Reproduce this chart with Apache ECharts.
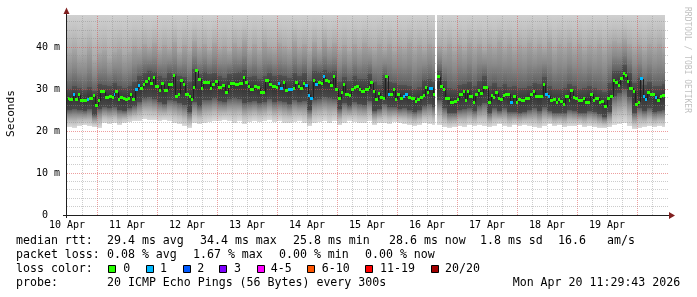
<!DOCTYPE html>
<html><head><meta charset="utf-8">
<script src="https://cdn.jsdelivr.net/npm/echarts@6/dist/echarts.min.js"></script>
<style>html,body{margin:0;padding:0;background:#fff}#c{width:697px;height:297px}</style>
</head><body><div id="c"></div>
<script>
// ---- data (time axis: hours since 10 Apr 12:00) ----
const dayLabels = ['10 Apr','11 Apr','12 Apr','13 Apr','14 Apr','15 Apr','16 Apr','17 Apr','18 Apr','19 Apr'];
const yMaxMs = 47.62;
const dataEndT = 239.2;
const missingT = [[147.1, 148.1]];

const medianT = [
0.4,0.9,2.5,3.3,4.4,5.3,6.7,8.0,8.9,10.4,
11.1,12.4,13.1,15.3,16.7,18.0,18.7,19.3,20.4,21.3,
22.4,23.3,24.4,25.3,26.0,27.1,28.4,29.3,30.5,31.3,
32.4,33.3,34.4,35.1,36.7,37.5,38.7,40.4,42.5,43.3,
44.4,45.3,46.3,47.3,48.7,49.5,50.4,51.3,52.4,53.5,
54.3,57.2,58.0,59.1,60.4,62.0,63.1,64.4,65.3,67.3,
68.9,70.3,71.1,72.4,73.3,74.7,76.0,77.3,79.3,80.9,
82.0,83.6,84.4,85.2,86.5,87.3,88.4,89.5,90.3,91.1,
92.4,93.2,94.3,95.3,96.4,97.2,98.3,99.3,100.4,101.5,
102.5,103.1,104.4,105.2,106.3,107.3,108.4,109.5,110.5,111.3,
112.7,113.5,114.8,115.6,116.7,117.5,119.3,120.7,121.2,122.5,
123.3,124.4,125.3,126.3,127.3,128.4,129.2,130.5,131.3,132.1,
133.2,134.3,135.3,136.4,137.5,139.1,140.1,141.2,142.3,143.1,
144.1,144.9,146.5,147.1,148.1,149.2,150.5,151.3,153.2,154.8,
156.1,156.9,158.3,159.3,160.1,160.9,162.5,163.3,164.4,165.2,
166.5,168.4,169.5,170.3,171.3,172.4,173.2,174.5,175.3,177.2,
178.4,179.6,180.4,181.5,183.3,185.2,186.3,187.3,188.7,190.5,
191.3,192.4,193.3,194.5,195.6,196.4,197.2,198.3,199.3,200.7,
201.2,202.5,203.3,204.4,206.3,207.1,209.2,210.3,211.3,212.7,
213.5,214.8,216.1,217.2,218.3,219.3,220.4,221.2,222.3,223.1,
224.1,224.9,226.3,227.3,228.4,229.2,230.3,231.1,232.1,233.2,
235.1,236.1,237.2,238.0];

const medianMs = [
27.8,27.5,28.6,27.5,28.6,27.2,27.3,27.5,27.8,28.4,
26.0,27.2,29.3,27.9,28.3,28.0,28.6,29.3,27.5,28.0,
27.7,27.5,27.8,28.6,27.5,29.8,30.8,30.2,31.0,31.9,
32.5,31.2,32.8,30.5,29.7,31.3,29.7,31.1,33.1,28.3,
28.7,32.0,31.0,28.6,28.1,27.6,30.3,34.4,32.3,30.2,
31.6,30.2,31.0,31.8,30.4,30.9,29.1,30.6,31.3,31.0,
31.2,32.8,31.5,30.6,29.8,30.6,30.3,29.2,32.0,31.0,
30.6,30.4,31.2,30.2,31.5,29.7,29.9,29.8,30.1,31.5,
30.7,30.2,31.3,30.9,28.5,27.8,32.0,31.0,31.6,31.2,
32.9,32.0,31.7,30.9,32.9,29.9,27.7,29.2,31.0,28.7,
28.4,29.9,30.3,30.6,29.9,29.4,29.8,30.4,31.5,29.5,
27.5,29.0,27.9,27.7,33.0,28.8,28.8,29.8,27.6,28.8,
27.8,28.2,28.6,28.0,27.7,27.1,27.5,28.0,28.4,30.4,
29.2,30.2,28.8,null,32.9,30.7,29.8,27.7,26.9,27.1,
27.5,28.6,29.5,27.3,29.4,28.3,26.9,28.8,29.6,29.0,
30.3,26.9,28.4,28.0,29.1,27.7,27.5,28.4,28.8,26.8,
28.3,26.8,27.5,27.3,27.8,28.6,29.4,28.2,28.3,31.0,
28.8,28.3,27.3,27.5,26.8,27.5,27.1,26.4,28.3,27.3,
29.6,27.9,27.7,27.3,27.8,26.9,28.7,27.3,27.8,26.9,
27.0,25.8,27.7,28.2,32.1,31.6,30.9,32.5,33.6,33.2,
31.8,30.2,29.5,26.2,26.9,32.4,28.2,27.5,29.1,28.6,
28.0,27.3,28.3,28.4];

const medianLoss = [
0,0,1,0,0,0,0,1,0,0, 0,0,0,0,0,0,1,0,0,0, 0,0,0,0,0,1,1,0,0,0, 0,0,0,0,0,0,0,0,0,0,
0,0,0,0,0,0,0,0,0,0, 0,0,0,0,0,0,0,0,0,0, 0,0,0,0,0,0,0,0,0,0, 0,0,1,1,0,0,1,1,0,0,
0,0,0,1,1,1,0,1,0,0, 1,0,0,0,0,0,0,0,0,0, 0,0,0,0,0,0,0,0,0,0, 0,0,0,0,0,1,0,0,0,0,
0,1,1,0,0,0,0,0,0,0, 0,1,0,0,0,0,0,0,0,0, 0,0,0,0,0,0,0,0,0,0, 0,0,0,0,0,0,0,0,0,1,
0,0,0,0,0,0,0,0,0,0, 1,1,0,0,0,0,0,0,0,0, 0,0,0,0,0,0,0,0,0,0, 0,0,0,0,0,0,0,0,0,0,
0,0,0,0,0,1,1,1,0,0, 1,0,0,0];

// smoke: 2-hour columns starting at t = 0
const smokeMin = [
21.0,20.8,21.2,21.5,21.3,21.0,20.6,21.8,21.6,21.9, 21.4,22.0,22.2,22.4,22.5,22.8,22.6,22.7,22.4,22.6,
22.3,22.0,21.6,21.2,20.8,21.8,21.6,21.9,22.1,22.3, 22.4,22.6,22.3,22.0,22.4,21.6,22.2,22.5,22.1,22.3,
22.6,22.2,22.4,22.0,21.8,22.2,22.5,21.9,21.2,21.8, 22.2,22.4,22.0,22.3,21.5,22.0,22.3,22.1,21.8,22.0,
22.4,21.4,21.8,22.0,21.6,22.1,21.9,21.6,21.4,21.2, 21.5,21.8,21.6,21.5,21.4,21.0,20.8,20.9,21.2,21.0,
21.4,21.1,21.5,21.3,20.9,21.2,21.6,21.3,21.0,21.4, 21.1,21.5,21.2,21.0,20.7,21.3,21.6,21.2,21.4,21.0,
21.3,21.1,21.4,20.9,21.2,21.0,20.8,20.6,20.9,21.4, 21.6,21.8,21.2,20.4,20.8,21.0,21.2,20.9,21.1,21.0];
const smokeLow = [
25.0,25.2,25.0,24.8,25.2,23.8,25.3,25.6,25.5,25.8, 25.0,24.8,25.4,25.9,27.0,27.8,28.2,27.6,26.8,26.5,
27.4,27.2,26.6,26.2,24.6,27.0,26.0,27.5,27.4,27.8, 27.2,26.8,27.6,27.8,27.6,26.6,26.8,27.2,26.6,27.0,
27.6,27.0,27.2,27.0,26.4,27.4,27.0,27.2,25.0,27.4, 27.6,28.0,27.8,27.6,25.2,26.6,26.0,27.0,26.4,26.2,
27.2,24.8,25.2,26.4,25.6,25.6,25.2,25.4,25.0,24.6, 25.0,26.0,26.4,25.8,27.4,25.4,24.4,24.2,25.0,25.2,
25.4,24.8,26.0,26.6,24.4,25.4,24.8,25.4,24.6,24.6, 24.4,24.6,25.0,25.4,24.8,25.8,24.8,24.4,24.2,24.4,
25.0,24.8,24.4,24.2,24.8,24.6,24.0,23.4,24.6,28.4, 29.0,30.0,28.2,24.2,25.4,24.8,25.4,24.6,24.8,25.0];
const smokeHigh = [
30.0,30.6,30.2,29.8,30.4,29.6,31.2,31.0,30.8,31.4, 30.6,30.2,30.8,31.6,33.0,33.8,34.2,34.0,33.2,32.6,
33.8,33.6,33.2,32.8,31.6,34.8,33.6,34.0,33.6,33.8, 33.2,32.6,33.6,33.8,34.0,34.6,32.8,33.0,32.4,33.2,
33.8,33.2,33.4,33.2,32.6,33.8,33.2,33.8,32.0,34.2, 34.0,34.6,34.0,34.2,31.6,32.8,32.0,33.0,32.4,32.4,
33.6,31.6,31.0,33.4,31.6,31.4,31.0,31.0,30.6,30.0, 30.4,32.2,32.4,31.6,34.4,31.8,30.2,30.0,31.0,31.2,
31.6,30.8,32.0,33.0,30.8,31.4,30.4,31.2,30.4,30.6, 30.2,30.2,30.8,31.4,31.2,32.8,30.6,30.0,30.0,30.2,
31.2,30.6,30.0,30.2,30.6,30.2,29.8,29.4,31.4,34.2, 34.4,35.6,33.8,31.4,32.6,31.0,31.6,30.6,30.8,31.2];
const smokeMid = [
38.5,39.5,37.8,38.2,39.8,37.0,38.6,39.2,37.5,38.8, 39.6,38.0,38.9,40.2,39.5,40.6,39.8,41.0,39.2,40.5,
39.6,41.2,38.8,40.4,39.0,41.5,39.8,40.8,39.4,40.9, 39.6,40.2,39.0,41.0,40.0,41.6,39.4,40.6,39.2,41.2,
40.0,39.5,41.0,40.2,39.6,41.4,39.8,40.6,39.0,41.2, 39.6,41.6,40.0,41.0,39.2,40.4,39.0,40.8,39.6,41.0,
40.0,39.2,40.6,39.4,40.8,39.0,40.2,39.6,41.0,39.2, 40.4,39.4,40.6,40.0,40.2,39.4,40.8,39.0,40.4,39.2,
41.0,39.6,40.6,39.4,40.8,39.8,41.2,39.6,40.6,39.2, 40.4,39.8,41.0,39.6,40.6,39.6,41.2,39.4,40.6,39.8,
41.0,39.6,40.8,39.2,40.4,39.6,40.8,39.4,40.6,41.4, 41.0,42.0,40.8,39.6,40.4,39.2,40.6,39.8,40.6,39.6];
const smokeStep = 2;

const lossLegend = [['0','#26ff00'],['1','#00b8ff'],['2','#0059ff'],['3','#7e00ff'],['4-5','#ff00ff'],['6-10','#ff5500'],['11-19','#ff0000'],['20/20','#a00000']];
const lossColor = ['#26ff00','#00b8ff'];

// ---- rendering ----
const mono = '"DejaVu Sans Mono", monospace';
const G = echarts.graphic;
function grad(stops){ return new G.LinearGradient(0,0,0,1, stops.map(s=>({offset:s[0], color:s[1]}))); }
function subtract(a, b){
  let parts = [[a, b]];
  missingT.forEach(m => {
    const next = [];
    parts.forEach(p => {
      if (m[1] <= p[0] || m[0] >= p[1]) { next.push(p); return; }
      if (m[0] > p[0]) next.push([p[0], m[0]]);
      if (m[1] < p[1]) next.push([m[1], p[1]]);
    });
    parts = next;
  });
  return parts;
}

const smokeData = smokeMin.map((v, i) => [i*smokeStep, Math.min((i+1)*smokeStep, dataEndT), v, smokeLow[i], smokeHigh[i], smokeMid[i]]);

const medianData = [];
for (let i = 0; i < medianT.length; i++) {
  if (medianMs[i] === null) continue;
  const end = i + 1 < medianT.length ? medianT[i+1] : dataEndT;
  const prev = (i > 0 && medianMs[i-1] !== null) ? medianMs[i-1] : NaN;
  medianData.push([medianT[i], end, medianMs[i], medianLoss[i], prev]);
}

const smokeSeries = {
  type: 'custom', coordinateSystem: 'cartesian2d', silent: true, z: 2, clip: true,
  encode: { x: [0, 1], y: [2, 3, 4, 5] },
  data: smokeData,
  renderItem: function (params, api) {
    const a = api.value(0), b = api.value(1);
    const vMin = api.value(2), vLow = api.value(3), vHigh = api.value(4), vMid = api.value(5);
    const children = [];
    subtract(a, b).forEach(p => {
      const x0 = Math.round(api.coord([p[0], 0])[0]);
      const x1 = Math.round(api.coord([p[1], 0])[0]);
      const w = x1 - x0; if (w <= 0) return;
      const yTop = Math.round(api.coord([p[0], yMaxMs])[1]);
      const yMid = Math.round(api.coord([p[0], vMid])[1]);
      const yHigh = Math.round(api.coord([p[0], vHigh])[1]);
      const yLow = Math.round(api.coord([p[0], vLow])[1]);
      const yMin = Math.round(api.coord([p[0], vMin])[1]);
      children.push({type:'rect', shape:{x:x0, y:yTop, width:w, height:yMid-yTop}, style:{fill: grad([[0,'#d0d0d0'],[0.5,'#bfbfbf'],[1,'#a9a9a9']])}});
      children.push({type:'rect', shape:{x:x0, y:yMid, width:w, height:yHigh-yMid}, style:{fill: grad([[0,'#a6a6a6'],[0.5,'#888888'],[1,'#5e5e5e']])}});
      children.push({type:'rect', shape:{x:x0, y:yHigh, width:w, height:yLow-yHigh}, style:{fill: grad([[0,'#505050'],[0.5,'#353535'],[1,'#4a4a4a']])}});
      children.push({type:'rect', shape:{x:x0, y:yLow, width:w, height:yMin-yLow}, style:{fill: grad([[0,'#5c5c5c'],[0.3,'#8c8c8c'],[0.65,'#bababa'],[1,'#dcdcdc']])}});
    });
    return {type:'group', children};
  }
};

const gridSeries = {
  type: 'custom', coordinateSystem: 'cartesian2d', silent: true, z: 3, clip: false,
  encode: { x: 0, y: 1 },
  data: [[0, 0]],
  renderItem: function (params, api) {
    const ch = [];
    const left = api.coord([0, 0])[0], right = api.coord([240, 0])[0] + 2;
    const top = api.coord([0, yMaxMs])[1], bottom = api.coord([0, 0])[1];
    for (let t = 6; t < 240; t += 6) {
      const x = Math.floor(api.coord([t, 0])[0]) + 0.5;
      const major = (t + 12) % 24 === 0;
      ch.push({type:'line', shape:{x1:x, y1:bottom, x2:x, y2:top},
        style:{stroke: major ? 'rgba(222,79,79,0.55)' : 'rgba(143,143,143,0.45)', lineWidth:1, lineDash:[1,1]}});
    }
    for (let v = 2; v < yMaxMs; v += 2) {
      const y = Math.floor(api.coord([0, v])[1]) + 0.5;
      const major = v % 10 === 0;
      ch.push({type:'line', shape:{x1:left, y1:y, x2:right, y2:y},
        style:{stroke: major ? 'rgba(222,79,79,0.55)' : 'rgba(143,143,143,0.45)', lineWidth:1, lineDash:[1,1]}});
    }
    return {type:'group', children: ch};
  }
};

const medianSeries = {
  type: 'custom', coordinateSystem: 'cartesian2d', silent: true, z: 4, clip: true,
  encode: { x: [0, 1], y: 2 },
  data: medianData,
  renderItem: function (params, api) {
    const a = api.value(0), b = api.value(1), v = api.value(2), loss = api.value(3), prev = api.value(4);
    const x0 = Math.round(api.coord([a, v])[0]);
    const x1 = Math.round(api.coord([b, v])[0]);
    const y = api.coord([a, v])[1];
    const ch = [];
    if (!isNaN(prev)) {
      const yp = api.coord([a, prev])[1];
      ch.push({type:'line', shape:{x1:x0+0.5, y1:Math.round(yp), x2:x0+0.5, y2:Math.round(y)}, style:{stroke:'#202020', lineWidth:1}});
    }
    ch.push({type:'rect', shape:{x:x0, y:Math.round(y-1.5), width:Math.max(1, x1-x0), height:3}, style:{fill: lossColor[loss] || '#26ff00'}});
    return {type:'group', children: ch};
  }
};

// graphic: axes, arrows, titles, legend
const graphic = [];
graphic.push({type:'line', shape:{x1:63, y1:215.5, x2:670, y2:215.5}, style:{stroke:'#1f1f1f', lineWidth:1}, z:10});
graphic.push({type:'line', shape:{x1:66.5, y1:218, x2:66.5, y2:13}, style:{stroke:'#1f1f1f', lineWidth:1}, z:10});
graphic.push({type:'polygon', shape:{points:[[669,212],[675,215.5],[669,219]]}, style:{fill:'#801f1f'}, z:10});
graphic.push({type:'polygon', shape:{points:[[63.5,14],[66.5,7.5],[69.5,14]]}, style:{fill:'#801f1f'}, z:10});
graphic.push({type:'text', x:11, y:113.5, rotation:Math.PI/2, style:{text:'Seconds', font:'11.2px ' + mono, fill:'#000', align:'center', verticalAlign:'middle'}});
graphic.push({type:'text', x:687.5, y:60, rotation:-Math.PI/2, style:{text:'RRDTOOL / TOBI OETIKER', font:'8px ' + mono, fill:'#c0c0c0', align:'center', verticalAlign:'middle'}});

const legendFont = '11.6px ' + mono;
const rows = [
  [240.5, [[16,'median rtt:'],[107,'29.4 ms avg'],[200,'34.4 ms max'],[293,'25.8 ms min'],[389,'28.6 ms now'],[480,'1.8 ms sd'],[558,'16.6'],[607,'am/s']]],
  [254.5, [[16,'packet loss:'],[107,'0.08 % avg'],[193,'1.67 % max'],[279,'0.00 % min'],[365,'0.00 % now']]],
  [268.5, [[16,'loss color:']]],
  [282.5, [[16,'probe:'],[107,'20 ICMP Echo Pings (56 Bytes) every 300s'],[512.7,'Mon Apr 20 11:29:43 2026']]]
];
rows.forEach(r => r[1].forEach(p => graphic.push({type:'text', x:p[0], y:r[0], style:{text:p[1], font:legendFont, fill:'#000', align:'left', verticalAlign:'middle'}})));
const boxX = [108, 145.5, 182.5, 219, 256.5, 306.5, 365, 430.5];
const boxLabelX = [123.3, 160, 197.3, 234, 270.7, 321.7, 380, 445];
lossLegend.forEach((l, i) => {
  const bx = Math.round(boxX[i]) + 0.5;
  graphic.push({type:'rect', shape:{x:bx, y:265.5, width:7, height:7}, style:{fill:l[1], stroke:'#000', lineWidth:1}});
  graphic.push({type:'text', x:boxLabelX[i], y:268.5, style:{text:l[0], font:legendFont, fill:'#000', align:'left', verticalAlign:'middle'}});
});

const chart = echarts.init(document.getElementById('c'), null, {renderer:'canvas'});
chart.setOption({
  animation: false,
  backgroundColor: '#fff',
  grid: { left: 67, right: 30, top: 15, bottom: 82, containLabel: false },
  xAxis: {
    type: 'value', min: 0, max: 240, interval: 24,
    axisLine: { show: false }, axisTick: { show: false }, splitLine: { show: false },
    axisLabel: { formatter: v => (v < 240 ? dayLabels[Math.round(v / 24)] : ''), fontFamily: '"DejaVu Sans Mono", monospace', fontSize: 10, color: '#000', margin: 5 }
  },
  yAxis: {
    type: 'value', min: 0, max: yMaxMs, interval: 10,
    axisLine: { show: false }, axisTick: { show: false }, splitLine: { show: false },
    axisLabel: { formatter: v => (Math.abs(v % 10) < 1e-6 ? (v === 0 ? '0  ' : v + ' m') : ''), fontFamily: '"DejaVu Sans Mono", monospace', fontSize: 10, color: '#000', margin: 7 }
  },
  series: [smokeSeries, gridSeries, medianSeries],
  graphic: graphic
});
</script>
</body></html>
